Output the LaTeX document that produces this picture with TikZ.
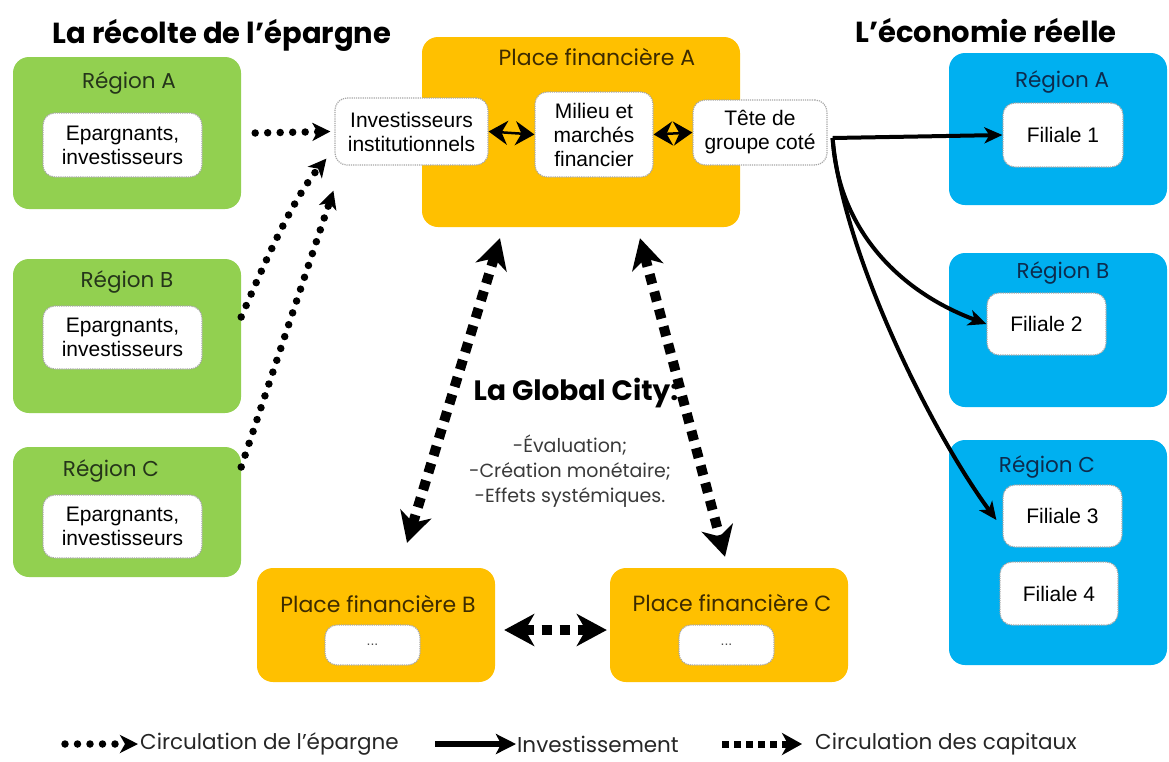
\documentclass[tikz,border=0pt]{standalone}
\usepackage{fontspec}
\usepackage{graphicx}
\setmainfont{Liberation Sans}
\newfontfamily\gothic{Poppins}
\usetikzlibrary{arrows.meta}
\definecolor{vert}{HTML}{92D050}
\definecolor{orangeF}{HTML}{FFC000}
\definecolor{bleu}{HTML}{00B0F0}
\definecolor{gtext}{HTML}{25351A}
\definecolor{otext}{HTML}{3D2B00}
\definecolor{btext}{HTML}{0D2B4D}
\definecolor{dtext}{HTML}{3A3A3A}
\tikzset{
  gbox/.style={fill=vert, rounded corners=16pt, inner sep=0pt},
  obox/.style={fill=orangeF, rounded corners=16pt, inner sep=0pt},
  bbox/.style={fill=bleu, rounded corners=16pt, inner sep=0pt},
  inbox/.style={draw=gray!70, densely dotted, line width=1.2pt, fill=white, rounded corners=12pt,
    inner sep=0pt, align=center, font=\fontsize{21}{24}\selectfont},
  glabel/.style={font=\gothic\fontsize{21.5}{24}\selectfont, text=gtext},
  olabel/.style={font=\gothic\fontsize{22}{24}\selectfont, text=otext},
  blabel/.style={font=\gothic\fontsize{21.5}{24}\selectfont, text=btext},
  titre/.style={font=\gothic\bfseries\fontsize{29}{32}\selectfont, text=black},
  legend/.style={font=\gothic\fontsize{21.5}{24}\selectfont, text=black!85, inner sep=0pt},
  savings/.style={line width=7.5pt, line cap=round, dash pattern=on 0pt off 12.5pt,
    -{Stealth[length=18pt,width=18pt,inset=5pt]}},
  investline/.style={line width=4pt, -{Stealth[length=18pt,width=16pt,inset=5pt]}},
  capital/.style={line width=10pt, dash pattern=on 10pt off 8pt,
    {Stealth[length=30pt,width=32pt,inset=9pt]}-{Stealth[length=30pt,width=32pt,inset=9pt]}},
  biarrow/.style={line width=2.5pt,
    {Stealth[length=19pt,width=24pt,inset=6pt]}-{Stealth[length=19pt,width=24pt,inset=6pt]}},
  legsolid/.style={line width=6pt, -{Stealth[length=20pt,width=20pt,inset=5pt]}},
  legcap/.style={line width=7pt, dash pattern=on 7pt off 5pt, -{Stealth[length=20pt,width=22pt,inset=6pt]}},
}
\begin{document}
\begin{tikzpicture}[x=1pt,y=-1pt]
\fill[white] (0,0) rectangle (1169,761);
\useasboundingbox (0,0) rectangle (1169,761);

% titles
\node[titre] (t1) at (222,35) {La récolte de l’épargne};
\node[titre] (t2) at (986,31) {L’économie réelle};

% green regions
\node[gbox, minimum width=228pt, minimum height=152pt] (rgA) at (127,133) {};
\node[gbox, minimum width=228pt, minimum height=154pt] (rgB) at (127,336) {};
\node[gbox, minimum width=228pt, minimum height=130pt] (rgC) at (127,512) {};
\node[glabel] (lgA) at (129,83) {Région A};
\node[glabel] (lgB) at (127,282) {Région B};
\node[glabel] (lgC) at (111,471) {Région C};
\node[inbox, minimum width=159pt, minimum height=64pt] (eA) at (122.5,145) {Epargnants,\\investisseurs};
\node[inbox, minimum width=159pt, minimum height=63pt] (eB) at (122.5,337.5) {Epargnants,\\investisseurs};
\node[inbox, minimum width=159pt, minimum height=63pt] (eC) at (122.5,526.5) {Epargnants,\\investisseurs};

% place financiere A
\node[obox, minimum width=318pt, minimum height=190pt] (orA) at (581,132) {};
\node[olabel] (loA) at (597,57) {Place financière A};
\node[inbox, minimum width=153pt, minimum height=67pt] (inv) at (411.5,131.5) {Investisseurs\\institutionnels};
\node[inbox, minimum width=118pt, minimum height=85pt] (mil) at (594,134.5) {Milieu et\\marchés\\financier};
\node[inbox, minimum width=134pt, minimum height=65pt] (tete) at (760,132.5) {Tête de\\groupe coté};
\draw[biarrow] (inv.east) -- (mil.west);
\draw[biarrow] (mil.east) -- (tete.west);

% blue regions
\node[bbox, minimum width=218pt, minimum height=152pt] (rbA) at (1058,129) {};
\node[bbox, minimum width=218pt, minimum height=154pt] (rbB) at (1058,330) {};
\node[bbox, minimum width=218pt, minimum height=225pt] (rbC) at (1058,552.5) {};
\node[blabel] (lbA) at (1062,82) {Région A};
\node[blabel] (lbB) at (1063,273) {Région B};
\node[blabel] (lbC) at (1047,467) {Région C};
\node[inbox, minimum width=120pt, minimum height=64pt] (f1) at (1063,135) {Filiale 1};
\node[inbox, minimum width=119pt, minimum height=62pt] (f2) at (1046.5,324) {Filiale 2};
\node[inbox, minimum width=119pt, minimum height=62pt] (f3) at (1062.5,516) {Filiale 3};
\node[inbox, minimum width=118pt, minimum height=63pt] (f4) at (1059,593.5) {Filiale 4};

% places financieres B and C
\node[obox, minimum width=238pt, minimum height=114pt] (orB) at (376,625) {};
\node[obox, minimum width=238pt, minimum height=114pt] (orC) at (729,625) {};
\node[olabel] (loB) at (378,604) {Place financière B};
\node[olabel] (loC) at (732,603) {Place financière C};
\node[inbox, minimum width=95pt, minimum height=40pt, font=\fontsize{14}{16}\selectfont, text=black!70] (dB) at (372.5,645) {...};
\node[inbox, minimum width=95pt, minimum height=40pt, font=\fontsize{14}{16}\selectfont, text=black!70] (dC) at (726.5,645) {...};

% global city text
\node[font=\gothic\bfseries\fontsize{28}{32}\selectfont] (gc) at (576,393) {La Global City:};
\node[align=center, font=\gothic\fontsize{19}{25}\selectfont, text=dtext] (gcl) at (570,471) {-Évaluation;\\-Création monétaire;\\-Effets systémiques.};

% savings flows
\draw[savings] ([xshift=14pt]rgA.east) -- ([xshift=-4pt]inv.west);
\draw[savings] ([yshift=19pt]rgB.east) .. controls (265,262) and (292,200) .. ([shift={(-8pt,7pt)}]inv.south west);
\draw[savings] ([yshift=45pt]rgC.east) -- ([shift={(-1pt,-25pt)}]inv.south west);

% investment flows
\coordinate (ts) at ([shift={(5pt,-5.5pt)}]tete.east);
\draw[investline] (ts) -- (f1.west);
\draw[investline] (ts) .. controls (838,230) and (900,292) .. (f2.west);
\draw[investline] (ts) .. controls (842,250) and (930,430) .. ([shift={(-6pt,-4pt)}]f3.west);

% capital flows
\draw[capital] ([shift={(-81pt,-11pt)}]orA.south) -- ([shift={(31pt,25pt)}]orB.north);
\draw[capital] ([shift={(59pt,-11pt)}]orA.south) -- ([shift={(-4pt,11pt)}]orC.north);
\draw[capital] ([shift={(9pt,-5pt)}]orB.east) -- ([shift={(-3pt,-5pt)}]orC.west);

% legend
\node[legend, anchor=west] (lt1) at (140,744) {Circulation de l’épargne};
\draw[savings] ([xshift=-75pt]lt1.west) -- ([xshift=-2pt]lt1.west);
\node[legend, anchor=west] (lt2) at (517,744) {Investissement};
\draw[legsolid] ([xshift=-82pt]lt2.west) -- ([xshift=-1pt]lt2.west);
\node[legend, anchor=west] (lt3) at (815,744) {Circulation des capitaux};
\draw[legcap] ([xshift=-93pt]lt3.west) -- ([xshift=-13pt]lt3.west);
\end{tikzpicture}
\end{document}
